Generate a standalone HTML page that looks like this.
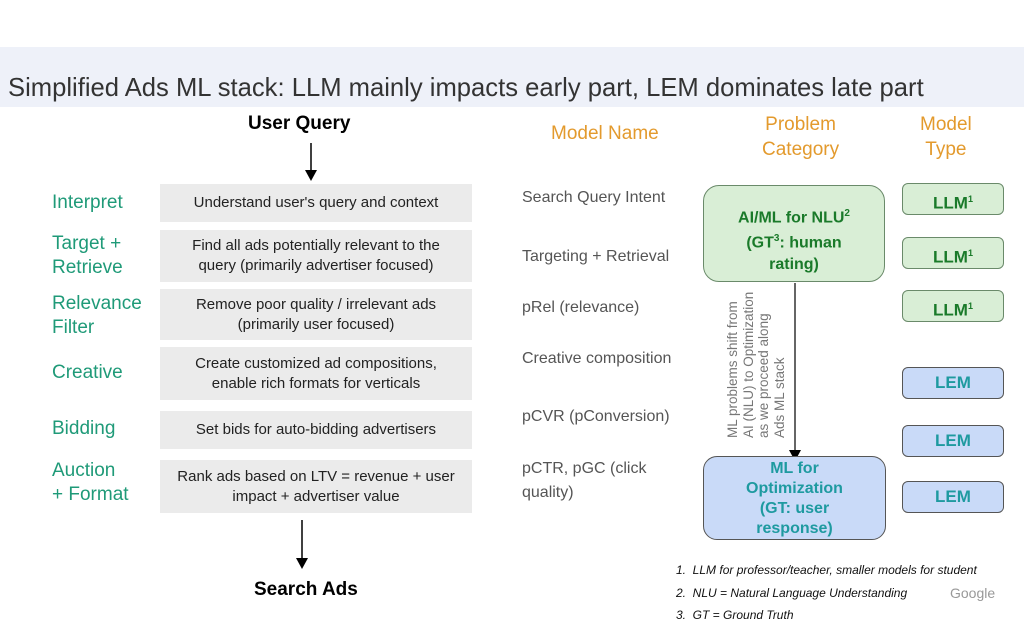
<!DOCTYPE html>
<html><head><style>
body{margin:0;width:1024px;height:625px;background:#fff;position:relative;font-family:"Liberation Sans",sans-serif;overflow:hidden}
.a{position:absolute}
.band{left:0;top:47px;width:1024px;height:60px;background:#eef1f9}
.title{left:8px;top:72px;font-size:26px;color:#333;white-space:nowrap;transform:scaleX(0.985);transform-origin:left}
.lab{color:#1f9a78;font-size:19px;line-height:24px;left:52px}
.box{left:160px;width:312px;background:#ebebeb;font-size:15px;color:#222;text-align:center;display:flex;align-items:center;justify-content:center;line-height:20px}
.mn{left:522px;color:#555;font-size:16px;line-height:24px}
.or{color:#e39a2d;font-size:19px;text-align:center;line-height:25px}
.g{background:#d9eed6;border:1.5px solid #6a8a6a;color:#1a7a2a;font-weight:bold;text-align:center;border-radius:6px}
.b{background:#c9daf8;border:1.5px solid #555;color:#1e9aa0;font-weight:bold;text-align:center;border-radius:6px}
.mt{left:902px;width:100px;height:30px;line-height:30px;font-size:17px}
.fn{left:676px;font-size:12px;font-style:italic;color:#111}
</style></head><body>
<div class="a band"></div>
<div class="a title">Simplified Ads ML stack: LLM mainly impacts early part, LEM dominates late part</div>
<div class="a" style="left:248px;top:113px;font-size:19px;font-weight:bold">User Query</div>
<svg class="a" style="left:0;top:0" width="1024" height="625">
<line x1="311" y1="143" x2="311" y2="172" stroke="#000" stroke-width="1.5"/><polygon points="305,170 317,170 311,181" fill="#000"/>
<line x1="302" y1="520" x2="302" y2="560" stroke="#000" stroke-width="1.5"/><polygon points="296,558 308,558 302,569" fill="#000"/>
<line x1="795" y1="283" x2="795" y2="452" stroke="#333" stroke-width="1.5"/><polygon points="789,450 801,450 795,461" fill="#000"/>
<text transform="translate(737,438) rotate(-90)" font-size="13.5" fill="#777" font-family="Liberation Sans"><tspan x="0" y="0">ML problems shift from</tspan><tspan x="0" y="16">AI (NLU) to Optimization</tspan><tspan x="0" y="31">as we proceed  along</tspan><tspan x="0" y="47">Ads ML stack</tspan></text>
</svg>
<div class="a lab" style="top:191px">Interpret</div>
<div class="a lab" style="top:232px">Target +<br>Retrieve</div>
<div class="a lab" style="top:292px">Relevance<br>Filter</div>
<div class="a lab" style="top:361px">Creative</div>
<div class="a lab" style="top:417px">Bidding</div>
<div class="a lab" style="top:459px">Auction<br>+ Format</div>
<div class="a box" style="top:184px;height:38px">Understand user's query and context</div>
<div class="a box" style="top:230px;height:52px">Find all ads potentially relevant to the<br>query (primarily advertiser focused)</div>
<div class="a box" style="top:289px;height:51px">Remove poor quality / irrelevant ads<br>(primarily user focused)</div>
<div class="a box" style="top:347px;height:53px">Create customized ad compositions,<br>enable rich formats for verticals</div>
<div class="a box" style="top:411px;height:38px">Set bids for auto-bidding advertisers</div>
<div class="a box" style="top:460px;height:53px">Rank ads based on LTV = revenue + user<br>impact + advertiser value</div>
<div class="a" style="left:254px;top:579px;font-size:19px;font-weight:bold">Search Ads</div>
<div class="a or" style="left:551px;top:121px">Model Name</div>
<div class="a or" style="left:762px;top:112px">Problem<br>Category</div>
<div class="a or" style="left:920px;top:112px">Model<br>Type</div>
<div class="a mn" style="top:186px">Search Query Intent</div>
<div class="a mn" style="top:245px">Targeting + Retrieval</div>
<div class="a mn" style="top:296px">pRel (relevance)</div>
<div class="a mn" style="top:347px">Creative composition</div>
<div class="a mn" style="top:405px">pCVR (pConversion)</div>
<div class="a mn" style="top:457px">pCTR, pGC (click<br>quality)</div>
<div class="a g" style="left:703px;top:185px;width:182px;height:97px;font-size:16px;line-height:21px;box-sizing:border-box;padding-top:17px;border-radius:16px">AI/ML for NLU<sup style="font-size:10px">2</sup><br>(GT<sup style="font-size:10px">3</sup>: human<br>rating)</div>
<div class="a b" style="left:703px;top:456px;width:183px;height:84px;font-size:16px;line-height:20px;box-sizing:border-box;padding-top:2px;border-radius:14px">ML for<br>Optimization<br>(GT: user<br>response)</div>
<div class="a g mt" style="top:183px">LLM<sup style="font-size:9px">1</sup></div>
<div class="a g mt" style="top:237px">LLM<sup style="font-size:9px">1</sup></div>
<div class="a g mt" style="top:290px">LLM<sup style="font-size:9px">1</sup></div>
<div class="a b mt" style="top:367px">LEM</div>
<div class="a b mt" style="top:425px">LEM</div>
<div class="a b mt" style="top:481px">LEM</div>
<div class="a fn" style="top:563px">1.&nbsp; LLM for professor/teacher, smaller models for student</div>
<div class="a fn" style="top:586px">2.&nbsp; NLU = Natural Language Understanding</div>
<div class="a fn" style="top:608px">3.&nbsp; GT = Ground Truth</div>
<div class="a" style="left:950px;top:585px;font-size:14px;color:#999">Google</div>
</body></html>
